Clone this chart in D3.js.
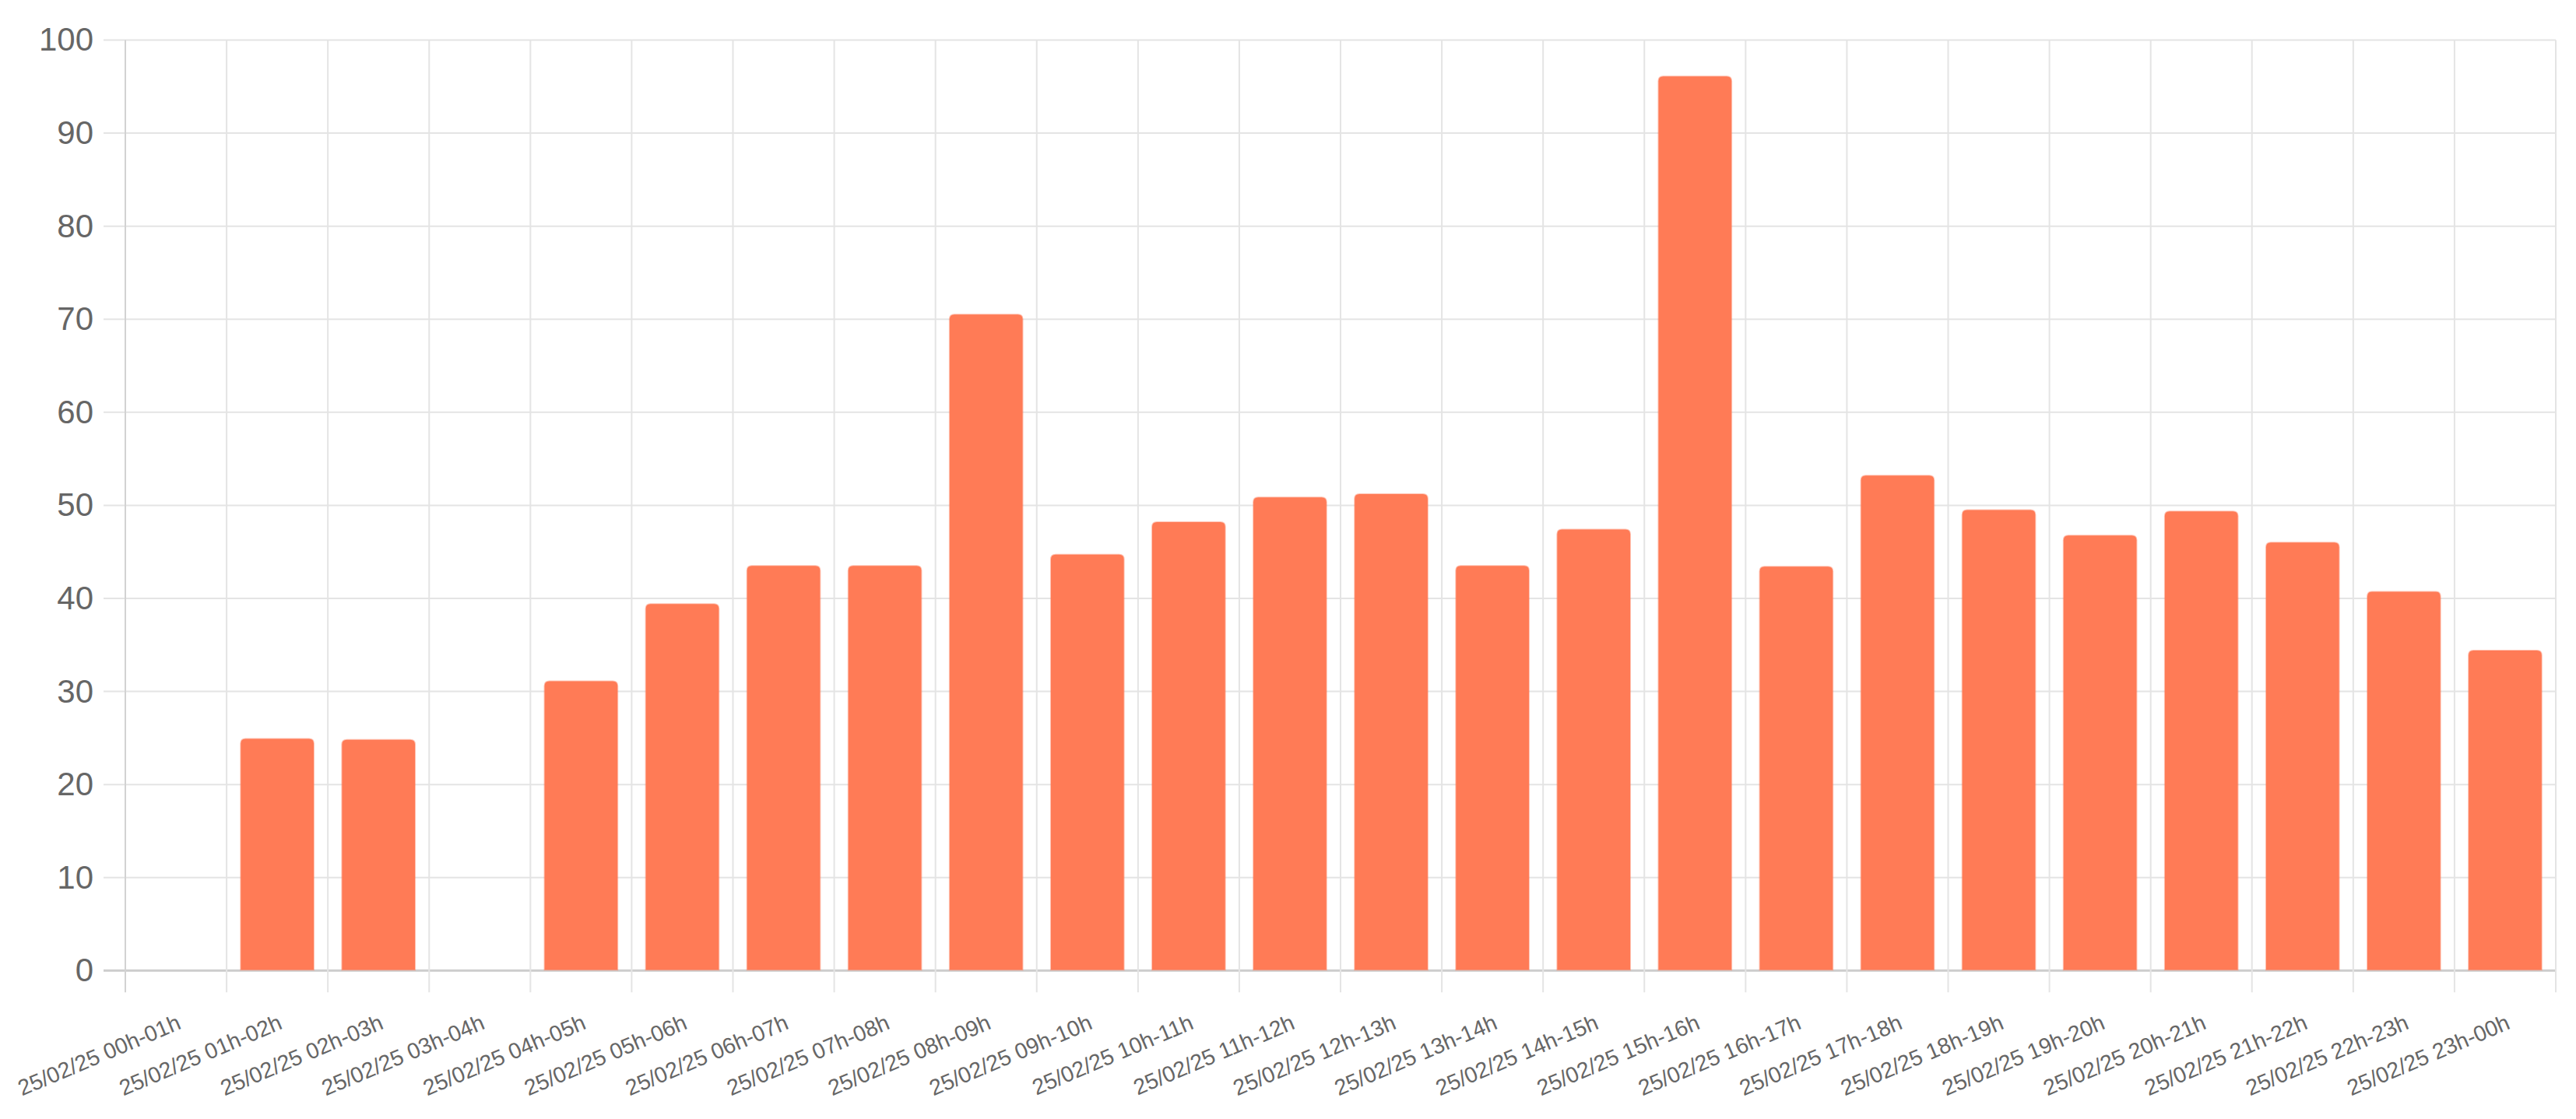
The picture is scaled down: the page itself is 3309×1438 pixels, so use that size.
<!DOCTYPE html>
<html>
<head>
<meta charset="utf-8">
<script src="https://cdn.jsdelivr.net/npm/d3@7"></script>
<style>
  html, body { margin: 0; padding: 0; background: #fff; }
  svg { display: block; }
  text { font-family: "Liberation Sans", Arial, Helvetica, sans-serif; fill: #666; }
</style>
</head>
<body>
<svg id="chart" width="3309" height="1438"></svg>
<script>
const categories = [
  "25/02/25 00h-01h", "25/02/25 01h-02h", "25/02/25 02h-03h", "25/02/25 03h-04h",
  "25/02/25 04h-05h", "25/02/25 05h-06h", "25/02/25 06h-07h", "25/02/25 07h-08h",
  "25/02/25 08h-09h", "25/02/25 09h-10h", "25/02/25 10h-11h", "25/02/25 11h-12h",
  "25/02/25 12h-13h", "25/02/25 13h-14h", "25/02/25 14h-15h", "25/02/25 15h-16h",
  "25/02/25 16h-17h", "25/02/25 17h-18h", "25/02/25 18h-19h", "25/02/25 19h-20h",
  "25/02/25 20h-21h", "25/02/25 21h-22h", "25/02/25 22h-23h", "25/02/25 23h-00h"
];
const values = [
  0, 24.9, 24.8, 0, 31.1, 39.4, 43.5, 43.5,
  70.5, 44.7, 48.2, 50.85, 51.2, 43.5, 47.4, 96.1,
  43.4, 53.2, 49.5, 46.75, 49.35, 46.0, 40.7, 34.4
];
const yTicks = [0, 10, 20, 30, 40, 50, 60, 70, 80, 90, 100];

(function () {
const svg = d3.select("#chart");
const pLeft = 161, pRight = 3283, pTop = 51.5, pBottom = 1247.3;
const tickLen = 28;

const x = d3.scaleBand().domain(categories).range([pLeft, pRight]).padding(0);
const y = d3.scaleLinear().domain([0, 100]).range([pBottom, pTop]);

const grid = svg.append("g");
grid.selectAll("line.h").data(yTicks).join("line")
  .attr("class", "h")
  .attr("x1", pLeft - tickLen).attr("x2", pRight)
  .attr("y1", d => y(d)).attr("y2", d => y(d))
  .attr("stroke", d => d === 0 ? "#cdcdcd" : "#e4e4e4")
  .attr("stroke-width", d => d === 0 ? 3 : 2);
const bounds = categories.map(c => x(c)).concat([x(categories[categories.length - 1]) + x.bandwidth()]);
grid.selectAll("line.v").data(bounds).join("line")
  .attr("class", "v")
  .attr("x1", d => d).attr("x2", d => d)
  .attr("y1", pTop).attr("y2", pBottom + tickLen)
  .attr("stroke", (d, i) => i === 0 ? "#d2d2d2" : "#e4e4e4")
  .attr("stroke-width", 2);

const yAxis = d3.axisLeft(y).tickValues(yTicks).tickSize(0).tickPadding(0);
const yg = svg.append("g").attr("transform", `translate(${pLeft - tickLen - 13},0)`).call(yAxis);
yg.select(".domain").remove();
yg.selectAll("text").attr("font-size", 42).style("fill", "#666")
  .attr("font-family", "'Liberation Sans', Arial, sans-serif");

const barFrac = 0.72;
const bw = x.bandwidth() * barFrac;
const r = 6;
function barPath(c, v) {
  const cx = x(c) + x.bandwidth() / 2;
  const x0 = cx - bw / 2, x1 = cx + bw / 2;
  const y0 = y(0) - 1, y1 = y(v);
  const rr = Math.min(r, (y0 - y1) / 2);
  return `M${x0},${y0} L${x0},${y1 + rr} Q${x0},${y1} ${x0 + rr},${y1} L${x1 - rr},${y1} Q${x1},${y1} ${x1},${y1 + rr} L${x1},${y0} Z`;
}
const data = categories.map((c, i) => ({ c, v: values[i] })).filter(d => d.v > 0);
svg.append("g").selectAll("path").data(data).join("path")
  .attr("d", d => barPath(d.c, d.v))
  .attr("fill", "#FF7B56")
  .attr("stroke", "rgba(255,123,86,0.45)")
  .attr("stroke-width", 2);

const xAxis = d3.axisBottom(x).tickSize(0).tickPadding(0);
const xg = svg.append("g").attr("transform", `translate(0,${pBottom})`).call(xAxis);
xg.select(".domain").remove();
xg.selectAll(".tick text")
  .attr("font-size", 28.5)
  .attr("font-family", "'Liberation Sans', Arial, sans-serif")
  .style("fill", "#666")
  .attr("text-anchor", "end")
  .attr("dy", null)
  .attr("y", 0)
  .attr("transform", "translate(8,74) rotate(-23)");
})();
</script>
</body>
</html>
